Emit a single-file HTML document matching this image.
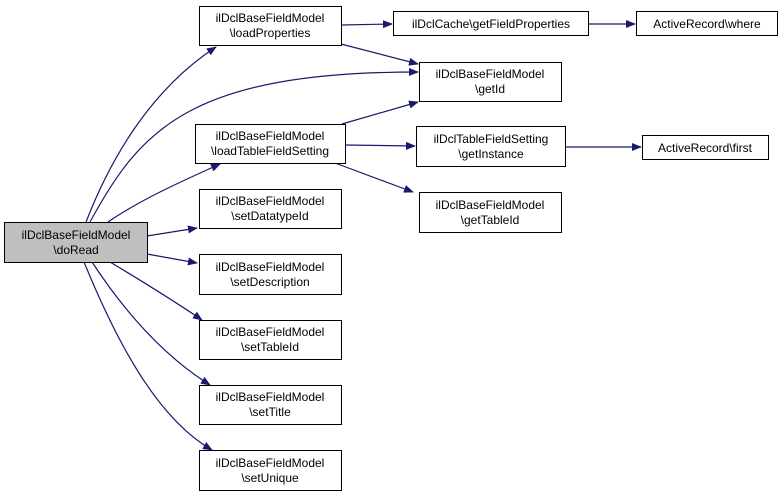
<!DOCTYPE html>
<html><head><meta charset="utf-8"><style>body{margin:0;background:#fff}svg{display:block}</style></head><body>
<svg width="781" height="496" viewBox="0 0 781 496" xmlns="http://www.w3.org/2000/svg" font-family="Liberation Sans, sans-serif" font-size="12">
<defs><marker id="a" markerWidth="10" markerHeight="8" refX="9" refY="4" orient="auto" markerUnits="userSpaceOnUse"><path d="M0,0L10,4L0,8z" fill="#191970"/></marker></defs>
<g fill="none" stroke="#191970" stroke-width="1.2" marker-end="url(#a)">
<path d="M86,222C110,160 150,90 216,47"/>
<path d="M90,222C140,130 190,72 418,72"/>
<path d="M108,222C140,200 180,182 220,164"/>
<path d="M147,236L197,228"/>
<path d="M147,254L197,263"/>
<path d="M110,262C140,280 180,305 202,320"/>
<path d="M92,262C130,320 170,360 210,385"/>
<path d="M84,262C120,350 160,420 212,450"/>
<path d="M341,25L392,24"/>
<path d="M341,44L418,64"/>
<path d="M342,124L418,102"/>
<path d="M345,145L415,146"/>
<path d="M335,163L413,192"/>
<path d="M588,24L635,24"/>
<path d="M565,147L641,147"/>
</g>
<g stroke="#000" stroke-width="1" fill="#fff">
<rect x="4.5" y="222.5" width="143" height="40" fill="#bfbfbf"/>
<rect x="199.5" y="6.5" width="142" height="39"/>
<rect x="195.5" y="124.5" width="150" height="39"/>
<rect x="199.5" y="189.5" width="142" height="39"/>
<rect x="199.5" y="254.5" width="142" height="40"/>
<rect x="199.5" y="320.5" width="142" height="39"/>
<rect x="199.5" y="385.5" width="142" height="39"/>
<rect x="199.5" y="450.5" width="142" height="40"/>
<rect x="393.5" y="11.5" width="195" height="24"/>
<rect x="636.5" y="11.5" width="141" height="24"/>
<rect x="419.5" y="62.5" width="142" height="39"/>
<rect x="416.5" y="126.5" width="149" height="40"/>
<rect x="642.5" y="135.5" width="126" height="24"/>
<rect x="419.5" y="192.5" width="142" height="40"/>
</g>
<g text-anchor="middle" fill="#000">
<text x="76" y="239">ilDclBaseFieldModel</text><text x="76" y="254">\doRead</text>
<text x="270" y="22">ilDclBaseFieldModel</text><text x="270" y="37">\loadProperties</text>
<text x="270" y="140">ilDclBaseFieldModel</text><text x="270" y="155">\loadTableFieldSetting</text>
<text x="270" y="205">ilDclBaseFieldModel</text><text x="270" y="220">\setDatatypeId</text>
<text x="270" y="271">ilDclBaseFieldModel</text><text x="270" y="286">\setDescription</text>
<text x="270" y="336">ilDclBaseFieldModel</text><text x="270" y="351">\setTableId</text>
<text x="270" y="401">ilDclBaseFieldModel</text><text x="270" y="416">\setTitle</text>
<text x="270" y="467">ilDclBaseFieldModel</text><text x="270" y="482">\setUnique</text>
<text x="491" y="28">ilDclCache\getFieldProperties</text>
<text x="707" y="28">ActiveRecord\where</text>
<text x="490" y="78">ilDclBaseFieldModel</text><text x="490" y="93">\getId</text>
<text x="491" y="143">ilDclTableFieldSetting</text><text x="491" y="158">\getInstance</text>
<text x="705" y="152">ActiveRecord\first</text>
<text x="490" y="209">ilDclBaseFieldModel</text><text x="490" y="224">\getTableId</text>
</g>
</svg>
</body></html>
